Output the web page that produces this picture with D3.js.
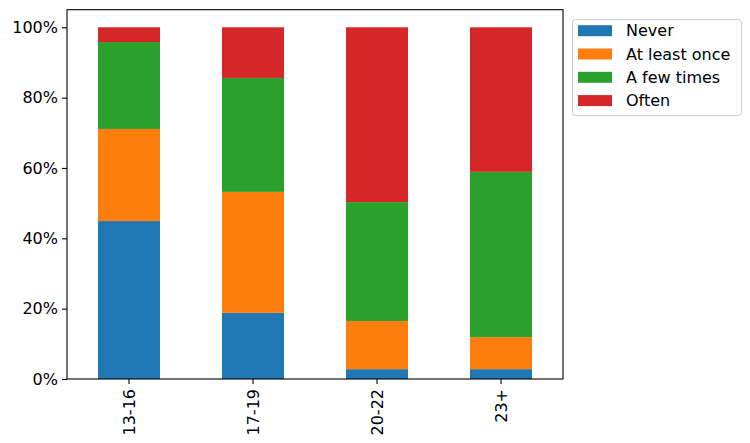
<!DOCTYPE html>
<html>
<head>
<meta charset="utf-8">
<script src="https://cdn.jsdelivr.net/npm/d3@7"></script>
<style>
  html, body { margin: 0; padding: 0; background: #fff; }
  svg { display: block; font-family: "DejaVu Sans", sans-serif; }
</style>
</head>
<body>
<svg id="chart" width="750" height="443"></svg>
<script>
const categories = ["13-16", "17-19", "20-22", "23+"];
const seriesNames = ["Never", "At least once", "A few times", "Often"];
const never       = [0.449, 0.188, 0.028, 0.028];
const atLeastOnce = [0.262, 0.344, 0.137, 0.091];
const aFewTimes   = [0.247, 0.324, 0.338, 0.470];
const often       = [0.042, 0.144, 0.497, 0.411];
const colors = ["#1f77b4", "#ff7f0e", "#2ca02c", "#d62728"];
const yTicks = [0, 0.2, 0.4, 0.6, 0.8, 1.0];

const seriesValues = [never, atLeastOnce, aFewTimes, often];
const rows = categories.map((c, i) => {
  const r = { cat: c };
  seriesNames.forEach((s, j) => { r[s] = seriesValues[j][i]; });
  return r;
});

const svg = d3.select("#chart");
const L = 67, R = 563, T = 9.7, B = 379;

const x = d3.scaleBand().domain(categories).range([L, R]).paddingInner(0.5).paddingOuter(0.25);
const y = d3.scaleLinear().domain([0, 1.05]).range([B, T]);

const stack = d3.stack().keys(seriesNames);
const stacked = stack(rows);

svg.append("g").selectAll("g").data(stacked).join("g")
  .attr("fill", (d, i) => colors[i])
  .selectAll("rect").data(d => d).join("rect")
  .attr("x", d => x(d.data.cat))
  .attr("width", x.bandwidth())
  .attr("y", d => y(d[1]))
  .attr("height", d => y(d[0]) - y(d[1]));

// axes
const yAxis = d3.axisLeft(y).tickValues(yTicks).tickFormat(d3.format(".0%")).tickSize(5).tickPadding(4);
const gy = svg.append("g").attr("transform", `translate(${L},0)`).call(yAxis);
gy.select(".domain").remove();
gy.selectAll("line").attr("stroke", "#000").attr("stroke-width", 1.1);
gy.selectAll("text").attr("font-size", 16).attr("fill", "#000").attr("font-family", "DejaVu Sans");

const xAxis = d3.axisBottom(x).tickSize(5).tickPadding(0);
const gx = svg.append("g").attr("transform", `translate(0,${B})`).call(xAxis);
gx.select(".domain").remove();
gx.selectAll("line").attr("stroke", "#000").attr("stroke-width", 1.1);
gx.selectAll("text")
  .attr("font-size", 16).attr("fill", "#000").attr("font-family", "DejaVu Sans")
  .attr("transform", "translate(0,10) rotate(-90)")
  .attr("text-anchor", "end")
  .attr("dy", "0.35em")
  .attr("x", 0).attr("y", 0);

// frame
svg.append("rect").attr("x", L).attr("y", T).attr("width", R - L).attr("height", B - T)
  .attr("fill", "none").attr("stroke", "#000").attr("stroke-width", 1.1);

// legend
const lg = svg.append("g");
lg.append("rect").attr("x", 572.5).attr("y", 19.5).attr("width", 169).attr("height", 96)
  .attr("rx", 3).attr("fill", "#fff").attr("fill-opacity", 0.8)
  .attr("stroke", "#cccccc").attr("stroke-width", 1);
seriesNames.forEach((s, i) => {
  const cy = 30.7 + i * 23.3;
  lg.append("rect").attr("x", 578).attr("y", cy - 5.5).attr("width", 34).attr("height", 11).attr("fill", colors[i]);
  lg.append("text").attr("x", 626).attr("y", cy).attr("dy", "0.35em")
    .attr("font-size", 16).attr("fill", "#000").text(s);
});
</script>
</body>
</html>
